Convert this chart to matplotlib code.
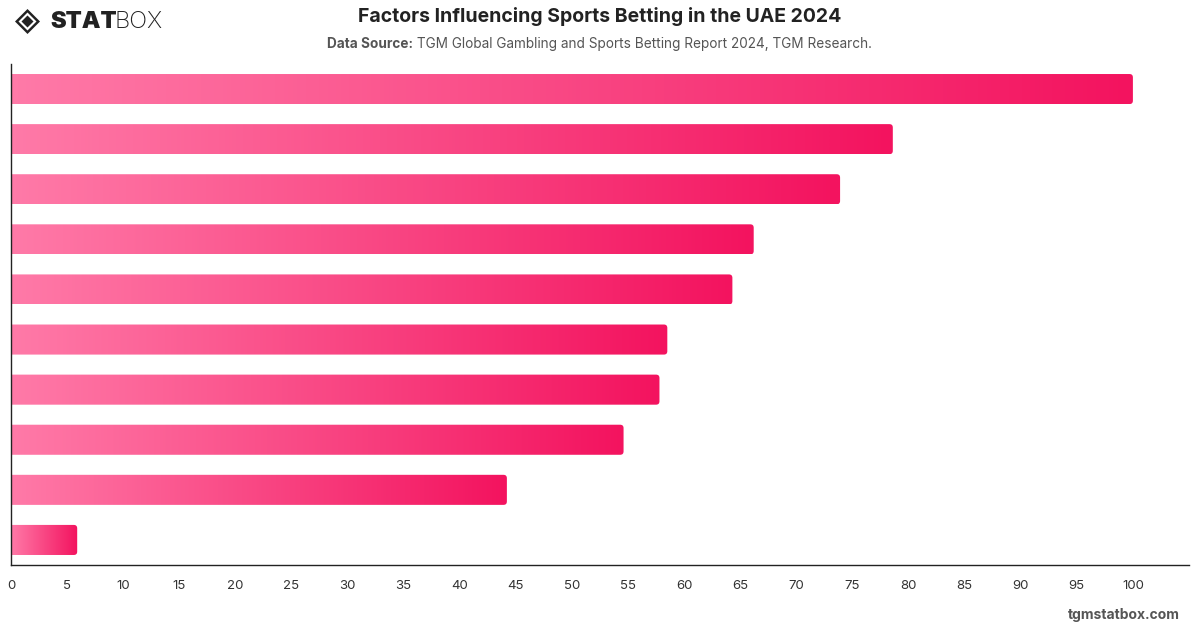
import numpy as np
import matplotlib.pyplot as plt
from matplotlib.colors import LinearSegmentedColormap
from matplotlib.patches import FancyBboxPatch, Polygon

# bar values, top to bottom (no category labels are shown on the chart)
values = [100, 78.6, 73.9, 66.2, 64.3, 58.5, 57.8, 54.6, 44.2, 5.9]
x_ticks = list(range(0, 101, 5))

title = "Factors Influencing Sports Betting in the UAE 2024"
source_label = "Data Source:"
source_text = " TGM Global Gambling and Sports Betting Report 2024, TGM Research."

plt.rcParams['font.family'] = ['Inter', 'DejaVu Sans']

W, H = 1200, 628
fig = plt.figure(figsize=(W / 100, H / 100), dpi=100)
ax = fig.add_axes([11 / W, 1 - 565 / H, (1189 - 11) / W, (565 - 64) / H])

cmap = LinearSegmentedColormap.from_list('pink', ['#ff7aa8', '#f3135f'])
grad = np.linspace(0, 1, 256).reshape(1, -1)

n = len(values)
bar_h = 0.6
for i, v in enumerate(values):
    y = n - 1 - i
    patch = FancyBboxPatch((-1, y - bar_h / 2), v + 1, bar_h,
                           boxstyle='round,pad=0,rounding_size=0.3',
                           mutation_aspect=0.224, fc='none', ec='none')
    ax.add_patch(patch)
    im = ax.imshow(grad, extent=[0, v, y - bar_h / 2, y + bar_h / 2],
                   cmap=cmap, aspect='auto', interpolation='bicubic')
    im.set_clip_path(patch)

ax.set_xlim(0, 105)
ax.set_ylim(-0.5, n - 0.5)
ax.set_xticks(x_ticks)
ax.set_xticklabels([str(t) for t in x_ticks])
ax.set_yticks([])
ax.tick_params(axis='x', length=0, pad=11, labelsize=9.5, labelcolor='#333333')
for s in ['top', 'right']:
    ax.spines[s].set_visible(False)
for s in ['left', 'bottom']:
    ax.spines[s].set_color('#222222')
    ax.spines[s].set_linewidth(1)

# title and source
fig.text(600 / W, 1 - 17 / H, title, ha='center', va='center',
         fontsize=14, fontweight='bold', color='#222222')
t1 = fig.text(327 / W, 1 - 44 / H, source_label, ha='left', va='center',
              fontsize=9.8, fontweight='bold', color='#555555')
fig.canvas.draw()
bb = t1.get_window_extent()
fig.text(bb.x1 / W, 1 - 44 / H, source_text, ha='left', va='center',
         fontsize=9.8, color='#555555')

# logo
def fig_pts(pts):
    return [(x / W, 1 - y / H) for x, y in pts]

cx, cy = 27.5, 21.5
def diamond(r):
    return fig_pts([(cx - r, cy), (cx, cy - r), (cx + r, cy), (cx, cy + r)])

fig.add_artist(Polygon(diamond(12.5), closed=True, fc='#222222', ec='none',
                       transform=fig.transFigure))
fig.add_artist(Polygon(diamond(9), closed=True, fc='white', ec='none',
                       transform=fig.transFigure))
fig.add_artist(Polygon(diamond(6), closed=True, fc='#222222', ec='none',
                       transform=fig.transFigure))
t2 = fig.text(50 / W, 1 - 22 / H, "STAT", ha='left', va='center',
              fontsize=17, fontweight='black', color='#222222')
fig.canvas.draw()
bb = t2.get_window_extent()
fig.text((bb.x1 - 2) / W, 1 - 22 / H, "BOX", ha='left', va='center',
         fontsize=17, fontweight='light', color='#222222')

fig.text(1180 / W, 1 - 615 / H, "tgmstatbox.com", ha='right', va='center',
         fontsize=10, fontweight='bold', color='#555555')

fig.savefig('out.png', dpi=100)
